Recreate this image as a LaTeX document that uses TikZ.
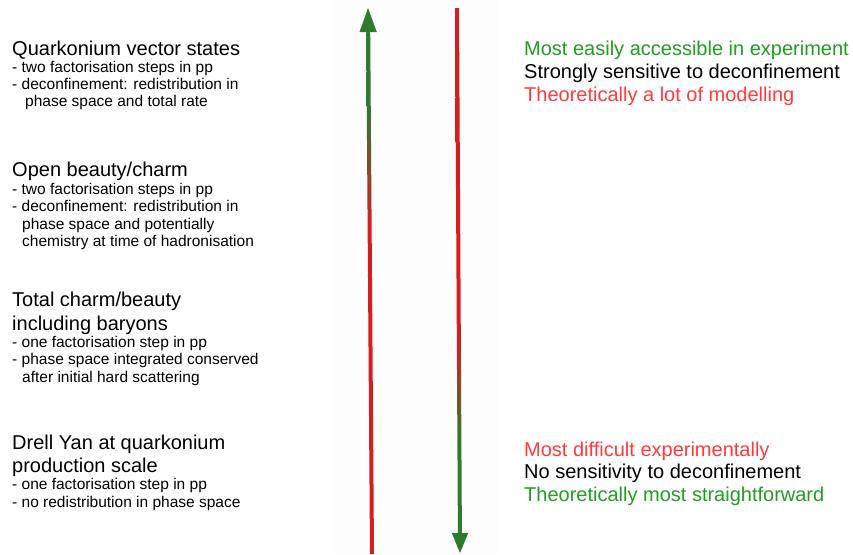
\documentclass[tikz,border=0pt]{standalone}
\usepackage{fontspec}
\setmainfont{Liberation Sans}
\definecolor{arrgreen}{HTML}{2F7A2F}
\definecolor{arrred}{HTML}{D61E1E}
\definecolor{txtgreen}{HTML}{1F9E1F}
\definecolor{txtred}{HTML}{FF3B3B}
\definecolor{bandgray}{HTML}{FDFDFD}
\pgfdeclareverticalshading{leftshaft}{100bp}{color(0bp)=(arrred); color(56.5bp)=(arrred); color(67.5bp)=(arrgreen); color(100bp)=(arrgreen)}
\pgfdeclareverticalshading{rightshaft}{100bp}{color(0bp)=(arrgreen); color(33.9bp)=(arrgreen); color(43.4bp)=(arrred); color(100bp)=(arrred)}
\begin{document}
\begin{tikzpicture}[x=1pt,y=-1pt,
  big/.style={font=\fontsize{20}{24}\selectfont, anchor=base west, inner sep=0pt},
  small/.style={font=\fontsize{15.5}{18}\selectfont, anchor=base west, inner sep=0pt},
  rtext/.style={font=\fontsize{20}{24}\selectfont, anchor=base west, inner sep=0pt}]
\useasboundingbox (0,0) rectangle (853,554);
\fill[white] (0,0) rectangle (853,554);
\fill[bandgray] (332,0) rectangle (498,554);

% left column
\node[big]   (q1) at (12,55.7)  {Quarkonium vector states};
\node[small] (q2) at (12,72.5)  {- two factorisation steps in pp};
\node[small] (q3) at (12,89.5)  {- deconfinement: redistribution in};
\node[small] (q4) at (25,106.5) {phase space and total rate};

\node[big]   (o1) at (12,176.7) {Open beauty/charm};
\node[small] (o2) at (12,194)   {- two factorisation steps in pp};
\node[small] (o3) at (12,211.5) {- deconfinement: redistribution in};
\node[small] (o4) at (22,229)   {phase space and potentially};
\node[small] (o5) at (22,246.5) {chemistry at time of hadronisation};

\node[big]   (t1) at (12,306.7) {Total charm/beauty};
\node[big]   (t2) at (12,330.3) {including baryons};
\node[small] (t3) at (12,347)   {- one factorisation step in pp};
\node[small] (t4) at (12,364.5) {- phase space integrated conserved};
\node[small] (t5) at (22,382)   {after initial hard scattering};

\node[big]   (d1) at (12,449.3) {Drell Yan at quarkonium};
\node[big]   (d2) at (12,472.7) {production scale};
\node[small] (d3) at (12,489.8) {- one factorisation step in pp};
\node[small] (d4) at (12,507.3) {- no redistribution in phase space};

% right column
\node[rtext, text=txtgreen] (r1) at (524,55.5)  {Most easily accessible in experiment};
\node[rtext]                (r2) at (524,78.3)  {Strongly sensitive to deconfinement};
\node[rtext, text=txtred]   (r3) at (524,101.2) {Theoretically a lot of modelling};
\node[rtext, text=txtred]   (r4) at (524,456)   {Most difficult experimentally};
\node[rtext]                (r5) at (524,478.6) {No sensitivity to deconfinement};
\node[rtext, text=txtgreen] (r6) at (524,501.3) {Theoretically most straightforward};

% left arrow (upwards, red -> green)
\coordinate (Ltip) at (368,8);
\coordinate (Lbot) at (372,554);
\shade[shading=leftshaft] (366.2,31) -- (370.2,31) -- (374,554) -- (370,554) -- cycle;
\fill[arrgreen] (Ltip) -- (376.8,32) -- (359.5,32) -- cycle;

% right arrow (downwards, red -> green)
\coordinate (Rtop) at (457,8);
\coordinate (Rtip) at (460,553);
\shade[shading=rightshaft] (455,8) -- (459,8) -- (461.9,534) -- (457.9,534) -- cycle;
\fill[arrgreen] (Rtip) -- (451.8,533) -- (468.2,533) -- cycle;
\end{tikzpicture}
\end{document}
